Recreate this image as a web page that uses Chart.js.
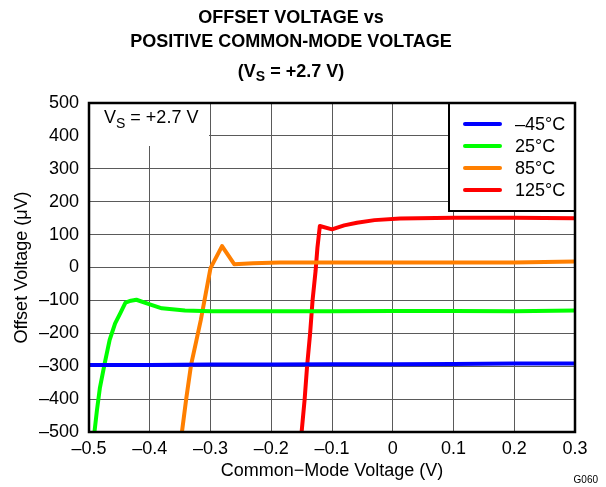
<!DOCTYPE html>
<html>
<head>
<meta charset="utf-8">
<script src="https://cdn.jsdelivr.net/npm/chart.js@4/dist/chart.umd.min.js"></script>
<style>
  html, body { margin: 0; padding: 0; background: #fff; }
  #c { display: block; }
</style>
</head>
<body>
<canvas id="c" width="606" height="487"></canvas>
<script>
// Offset voltage vs common-mode voltage, VS = +2.7 V, four temperatures.

const FONT = '"Liberation Sans", Arial, Helvetica, sans-serif';

// Axis ticks
const xTickValues = [-0.5, -0.4, -0.3, -0.2, -0.1, 0, 0.1, 0.2, 0.3];
const xTickLabels = ['–0.5', '–0.4', '–0.3', '–0.2', '–0.1', '0', '0.1', '0.2', '0.3'];
const yTickValues = [-500, -400, -300, -200, -100, 0, 100, 200, 300, 400, 500];
const yTickLabels = ['–500', '–400', '–300', '–200', '–100', '0', '100', '200', '300', '400', '500'];

// Series labels and colours
const seriesLabels = ['–45°C', '25°C', '85°C', '125°C'];
const seriesColors = ['#0000ff', '#00ff00', '#ff7f00', '#ff0000'];

// -45 °C
const xM45 = [-0.5, -0.4, -0.3, -0.2, -0.1, 0, 0.1, 0.2, 0.3];
const yM45 = [-296, -296, -295, -295, -294, -294, -293, -292, -292];

// 25 °C
const x25 = [-0.491, -0.487, -0.482, -0.474, -0.466, -0.457, -0.448, -0.440, -0.431, -0.422, -0.400, -0.380, -0.342, -0.300, -0.200, -0.100, 0, 0.1, 0.2, 0.3];
const y25 = [-500, -435, -365, -290, -220, -170, -137, -107, -101, -98, -112, -124, -131, -133, -133, -133, -132, -132, -133, -131];

// 85 °C
const x85 = [-0.347, -0.340, -0.332, -0.323, -0.316, -0.308, -0.300, -0.281, -0.261, -0.230, -0.186, -0.1, 0, 0.1, 0.2, 0.3];
const y85 = [-500, -400, -296, -220, -160, -81, -2, 65, 10, 13, 15, 15, 15, 15, 15, 18];

// 125 °C
const x125 = [-0.150, -0.145, -0.141, -0.136, -0.132, -0.127, -0.124, -0.120, -0.100, -0.080, -0.059, -0.030, 0.012, 0.1, 0.2, 0.3];
const y125 = [-500, -400, -300, -200, -100, -10, 60, 126, 116, 128, 136, 144, 149, 151, 151, 150];

const seriesX = [xM45, x25, x85, x125];
const seriesY = [yM45, y25, y85, y125];

// Title text
const titleLines = ['OFFSET VOLTAGE vs', 'POSITIVE COMMON-MODE VOLTAGE'];
const titleSupply = ['(V', 'S', ' = +2.7 V)'];
const noteSupply = ['V', 'S', ' = +2.7 V'];
const figureCode = 'G060';

// Draw "main + subscript + rest" starting at x (or centred on x)
function drawSubscripted(ctx, parts, x, y, mainFont, subFont, subDrop, centred) {
  ctx.font = mainFont;
  const w0 = ctx.measureText(parts[0]).width;
  const w2 = ctx.measureText(parts[2]).width;
  ctx.font = subFont;
  const w1 = ctx.measureText(parts[1]).width;
  let sx = centred ? x - (w0 + w1 + w2) / 2 : x;
  ctx.textAlign = 'left';
  ctx.textBaseline = 'alphabetic';
  ctx.font = mainFont;
  ctx.fillText(parts[0], sx, y);
  ctx.font = subFont;
  ctx.fillText(parts[1], sx + w0, y + subDrop);
  ctx.font = mainFont;
  ctx.fillText(parts[2], sx + w0 + w1, y);
}

const decor = {
  id: 'decor',
  beforeDatasetsDraw(chart) {
    const { ctx, chartArea: a } = chart;
    ctx.save();
    // blank panel behind the supply note
    ctx.fillStyle = '#fff';
    ctx.fillRect(a.left, a.top, 120, 43);
    ctx.fillStyle = '#000';
    drawSubscripted(ctx, noteSupply, a.left + 15, a.top + 20,
      '18px ' + FONT, '14px ' + FONT, 5, false);
    ctx.restore();
  },
  afterDatasetsDraw(chart) {
    const { ctx, chartArea: a } = chart;
    ctx.save();
    // legend panel
    const lx = a.right - 126, ly = a.top, lw = 126, lh = 108;
    ctx.fillStyle = '#fff';
    ctx.fillRect(lx, ly, lw, lh);
    ctx.strokeStyle = '#000';
    ctx.lineWidth = 2;
    ctx.strokeRect(lx, ly, lw, lh);
    ctx.font = '18px ' + FONT;
    ctx.textAlign = 'left';
    ctx.textBaseline = 'middle';
    seriesLabels.forEach((lab, i) => {
      const yy = ly + 21 + i * 22;
      ctx.strokeStyle = seriesColors[i];
      ctx.lineWidth = 4;
      ctx.lineCap = 'round';
      ctx.beginPath();
      ctx.moveTo(lx + 16, yy);
      ctx.lineTo(lx + 51, yy);
      ctx.stroke();
      ctx.fillStyle = '#000';
      ctx.fillText(lab, lx + 66, yy + 1);
    });
    // plot frame
    ctx.lineCap = 'butt';
    ctx.strokeStyle = '#000';
    ctx.lineWidth = 2.5;
    ctx.strokeRect(a.left, a.top, a.right - a.left, a.bottom - a.top);
    ctx.restore();
  },
  afterDraw(chart) {
    const { ctx } = chart;
    ctx.save();
    ctx.fillStyle = '#000';
    ctx.textAlign = 'center';
    ctx.textBaseline = 'alphabetic';
    ctx.font = 'bold 18px ' + FONT;
    ctx.fillText(titleLines[0], 291, 23);
    ctx.fillText(titleLines[1], 291, 47);
    drawSubscripted(ctx, titleSupply, 291, 77,
      'bold 18px ' + FONT, 'bold 14px ' + FONT, 4, true);
    ctx.font = '10px ' + FONT;
    ctx.textAlign = 'right';
    ctx.fillText(figureCode, 598, 483);
    ctx.restore();
  }
};

const datasets = seriesLabels.map((lab, i) => ({
  label: lab,
  data: seriesX[i].map((x, k) => ({ x: x, y: seriesY[i][k] })),
  borderColor: seriesColors[i],
  backgroundColor: seriesColors[i],
  showLine: true,
  borderWidth: 4,
  pointRadius: 0,
  tension: 0,
  borderJoinStyle: 'round',
  borderCapStyle: 'round'
}));

new Chart(document.getElementById('c'), {
  type: 'scatter',
  data: { datasets },
  options: {
    responsive: false,
    animation: false,
    devicePixelRatio: 1,
    layout: { padding: { top: 103, right: 31, left: 0, bottom: 0 } },
    plugins: {
      legend: { display: false },
      title: { display: false },
      tooltip: { enabled: false }
    },
    scales: {
      x: {
        type: 'linear',
        min: -0.5,
        max: 0.3,
        afterFit(s) { s.height = 55; },
        afterBuildTicks(s) { s.ticks = xTickValues.map(v => ({ value: v })); },
        ticks: {
          callback: (v, i) => xTickLabels[i],
          font: { family: FONT, size: 18 },
          color: '#000',
          padding: 6,
          maxRotation: 0,
          autoSkip: false
        },
        grid: { color: '#5a5a5a', lineWidth: 1, drawTicks: false },
        border: { display: false },
        title: {
          display: true,
          text: 'Common−Mode Voltage (V)',
          font: { family: FONT, size: 18 },
          color: '#000',
          padding: { top: 0, bottom: 5 }
        }
      },
      y: {
        type: 'linear',
        min: -500,
        max: 500,
        afterFit(s) { s.width = 89; },
        afterBuildTicks(s) { s.ticks = yTickValues.map(v => ({ value: v })); },
        ticks: {
          callback: (v, i) => yTickLabels[i],
          font: { family: FONT, size: 18 },
          color: '#000',
          padding: 10,
          autoSkip: false
        },
        grid: { color: '#5a5a5a', lineWidth: 1, drawTicks: false },
        border: { display: false },
        title: {
          display: true,
          text: 'Offset Voltage (μV)',
          font: { family: FONT, size: 18 },
          color: '#000',
          padding: { top: 11, bottom: 0 }
        }
      }
    }
  },
  plugins: [decor]
});
</script>
</body>
</html>
